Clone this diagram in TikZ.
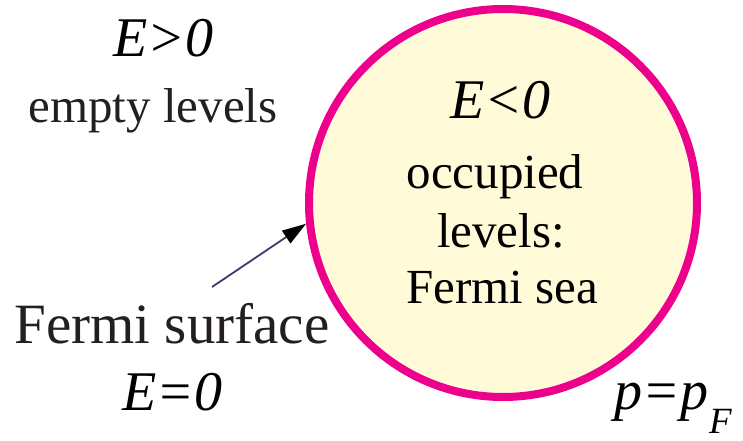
\documentclass[tikz,border=0pt]{standalone}
\usepackage{fontspec}
\setmainfont{Liberation Serif}
\usetikzlibrary{arrows.meta}
\definecolor{rim}{HTML}{EC008C}
\definecolor{sea}{HTML}{FFFBD9}
\definecolor{arrowline}{HTML}{3A3A6E}
\definecolor{txt}{HTML}{231F20}
\begin{document}
\begin{tikzpicture}[x=1pt,y=1pt,
  big/.style={font=\fontsize{56}{60}\selectfont\itshape, text=black, anchor=base, inner sep=0pt},
  lbl/.style={font=\fontsize{49}{52}\selectfont, text=txt, anchor=base, inner sep=0pt},
  huge/.style={font=\fontsize{57}{60}\selectfont, text=txt, anchor=base, inner sep=0pt}]
\useasboundingbox (0,0) rectangle (743,440);
\node[circle, draw=rim, fill=sea, line width=8pt, minimum size=388pt, inner sep=0pt] (seacirc) at (503,237) {};
\node[big] (eg) at (163,383) {E>0};
\node[lbl] (empty) at (153,318) {empty levels};
\node[big] (el) at (500,322) {E<0};
\node[lbl, text=black] (occ) at (495,252) {occupied};
\node[lbl, text=black] (lev) at (501,193) {levels:};
\node[lbl, text=black] (fsea) at (502,137) {Fermi sea};
\node[huge] (fsurf) at (172,97) {Fermi surface};
\node[big] (ez) at (172,30) {E=0};
\node[big, anchor=base west] (pf) at (614,31) {p=p\hspace{1pt}\raisebox{-24pt}{\fontsize{37}{40}\selectfont F}};
\coordinate (tail) at (212,153);
\draw[arrowline, line width=1.8pt, -{Triangle[length=24pt,width=15pt,color=black]}] (tail) -- (seacirc.186);
\end{tikzpicture}
\end{document}
